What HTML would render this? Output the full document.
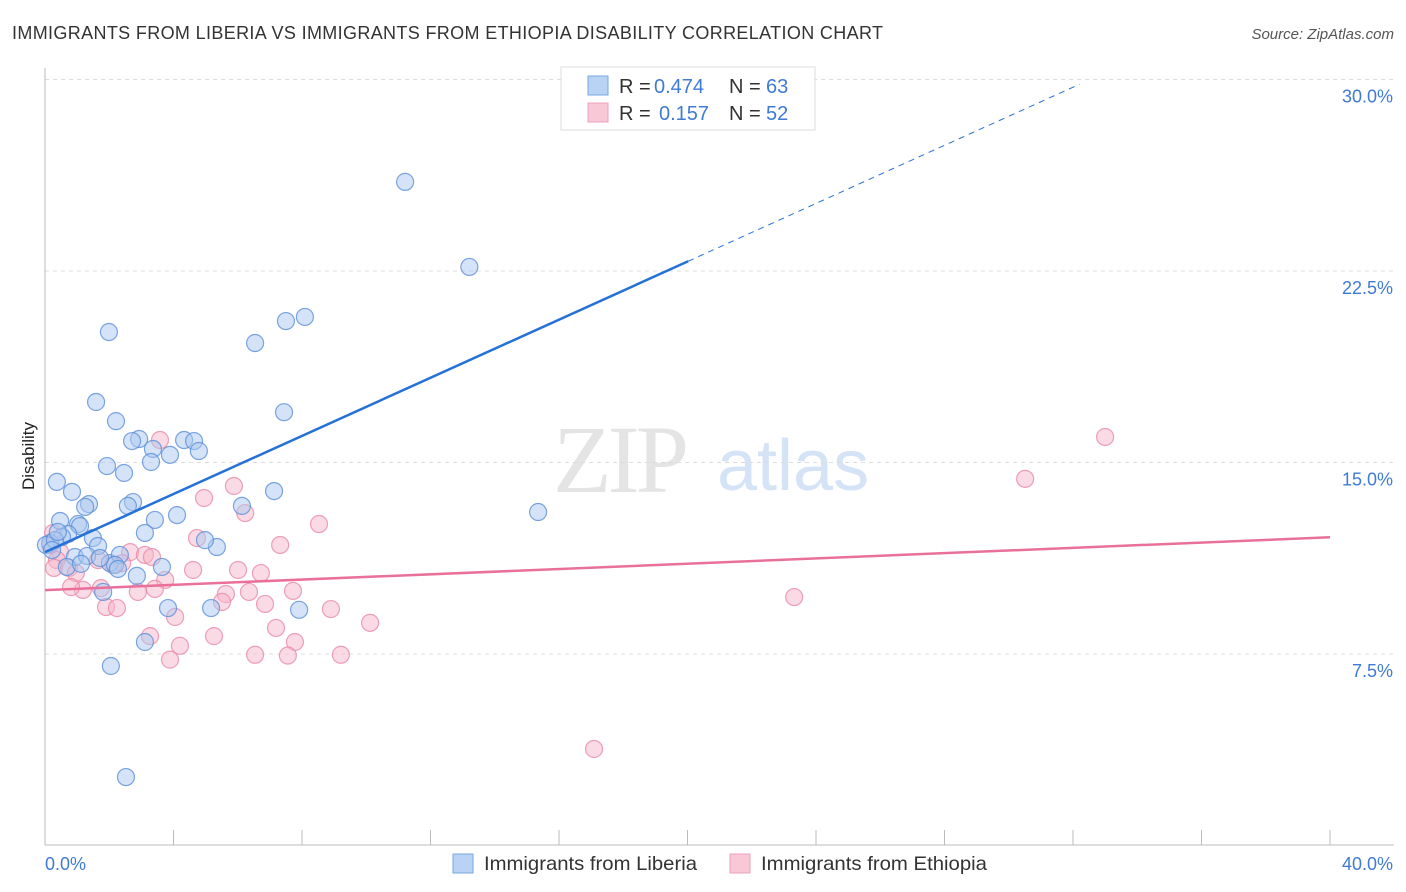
<!DOCTYPE html>
<html><head><meta charset="utf-8"><style>
body{margin:0;background:#fff;font-family:"Liberation Sans",sans-serif;}
svg{display:block}
</style></head><body>
<svg id="chart" width="1406" height="892">
<text x="12" y="39" font-size="18" fill="#333" textLength="871" lengthAdjust="spacing">IMMIGRANTS FROM LIBERIA VS IMMIGRANTS FROM ETHIOPIA DISABILITY CORRELATION CHART</text>
<text x="1394" y="39" font-size="15" fill="#555" font-style="italic" text-anchor="end">Source: ZipAtlas.com</text>
<g>
<text x="553" y="492" font-size="96" fill="#e4e4e4" font-family="Liberation Serif,serif" letter-spacing="-4">ZIP</text>
<text x="717" y="490" font-size="72" fill="#d5e3f6">atlas</text>
</g>
<g id="grid"></g>
<g id="axes"></g>
<g id="pts"></g>
<g id="lines"></g>
<text transform="translate(34,456) rotate(-90)" font-size="17" fill="#222" text-anchor="middle">Disability</text>
<g>
<rect x="561" y="67" width="254" height="63" fill="#fff" stroke="#ddd"/>
<rect x="588" y="76" width="20" height="19" fill="#b8d3f4" stroke="#7aa7e2"/>
<rect x="588" y="103" width="20" height="19" fill="#f8c8d7" stroke="#eca0b9"/>
<g font-size="20" fill="#333">
<text x="619" y="93">R =</text><text x="654" y="93" fill="#3f7bd6">0.474</text><text x="729" y="93">N =</text><text x="766" y="93" fill="#3f7bd6">63</text>
</g>
<g font-size="20" fill="#333">
<text x="619" y="120">R =</text><text x="659" y="120" fill="#3f7bd6">0.157</text><text x="729" y="120">N =</text><text x="766" y="120" fill="#3f7bd6">52</text>
</g>
</g>
<g>
<rect x="453" y="854" width="20" height="19" fill="#b8d3f4" stroke="#7aa7e2"/>
<text x="484" y="870" font-size="19.5" fill="#333" textLength="213" lengthAdjust="spacingAndGlyphs">Immigrants from Liberia</text>
<rect x="730" y="854" width="20" height="19" fill="#f8c8d7" stroke="#eca0b9"/>
<text x="761" y="870" font-size="19.5" fill="#333" textLength="226" lengthAdjust="spacingAndGlyphs">Immigrants from Ethiopia</text>
</g>
</svg>
<script>
const yTicks=[7.5,15,22.5,30];
const yTickLabels=["7.5%","15.0%","22.5%","30.0%"];
const xTickLabels=["0.0%","40.0%"];
const liberiaX=[11.21,13.21,1.99,8.09,7.50,6.54,1.59,7.44,2.21,2.93,2.71,4.33,4.64,3.36,3.89,4.79,3.30,1.93,2.46,0.37,0.84,7.13,1.37,2.74,2.58,1.25,3.42,4.11,6.13,15.35,0.47,1.03,1.09,3.11,0.72,1.49,0.53,0.16,0.03,1.65,5.35,4.98,0.93,1.31,2.02,2.33,2.18,3.64,2.27,0.68,2.86,1.81,3.83,5.17,7.91,3.11,2.05,2.52,0.31,0.40,1.71,1.12,0.22];
const liberiaY=[25.99,22.66,20.11,20.70,20.54,19.68,17.37,16.97,16.62,15.92,15.84,15.88,15.84,15.53,15.30,15.45,15.02,14.86,14.59,14.24,13.85,13.88,13.37,13.45,13.30,13.26,12.75,12.94,13.30,13.06,12.71,12.59,12.51,12.24,12.20,12.04,12.08,11.85,11.77,11.73,11.69,11.96,11.30,11.34,11.06,11.38,10.99,10.91,10.83,10.91,10.56,9.93,9.30,9.30,9.23,7.97,7.03,2.68,11.96,12.28,11.26,11.03,11.57];
const ethiopiaX=[33.00,30.51,23.32,17.09,3.58,4.95,5.88,6.23,8.53,4.73,7.32,0.25,0.47,0.37,2.65,3.11,3.33,1.65,2.40,4.61,6.01,6.72,0.28,0.75,0.96,2.12,3.74,5.63,6.35,7.72,1.74,1.18,2.89,3.42,0.81,5.51,6.85,8.90,1.90,2.24,4.05,10.12,7.19,5.26,3.27,7.78,4.20,6.54,9.21,7.56,3.89,0.16];
const ethiopiaY=[16.00,14.36,9.73,3.78,15.88,13.61,14.08,13.02,12.59,12.04,11.77,12.24,11.49,11.18,11.49,11.38,11.30,11.18,11.06,10.79,10.79,10.67,10.87,10.87,10.67,10.99,10.40,9.85,9.93,9.97,10.08,10.01,9.93,10.05,10.12,9.54,9.46,9.26,9.34,9.30,8.95,8.72,8.52,8.20,8.20,7.97,7.82,7.47,7.47,7.44,7.28,11.77];
const liberiaTrend=[11.49,0.569];
const ethiopiaTrend=[10.0,0.0518];
const NS="http://www.w3.org/2000/svg";
const X0=45,X1=1330,Y0=845.5,YT=79.5;
const sx=v=>X0+v/40*(X1-X0);
const sy=v=>Y0-v/30*(Y0-YT);
function mk(t,a,p){const e=document.createElementNS(NS,t);for(const k in a)e.setAttribute(k,a[k]);p.appendChild(e);return e;}
const grid=document.getElementById('grid'),axes=document.getElementById('axes'),pts=document.getElementById('pts'),lines=document.getElementById('lines');
yTicks.forEach((t,i)=>{
  const g=mk('line',{x1:X0,x2:1394,y1:sy(t),y2:sy(t),stroke:'#dcdcdc','stroke-dasharray':'4,4'},grid);
  
  
  const l=mk('text',{x:1393,y:sy(t)+23,'font-size':18,fill:'#3f7bd6','text-anchor':'end'},axes);
  l.textContent=yTickLabels[i];
  
  
});
const la=mk('line',{x1:X0,x2:X0,y1:68,y2:845,stroke:'#bbb'},axes);


const ba=mk('line',{x1:X0,x2:1394,y1:845,y2:845,stroke:'#bbb'},axes);


for(let i=0;i<=10;i++){
  const t=mk('line',{x1:sx(i*4),x2:sx(i*4),y1:830,y2:845,stroke:'#bbb'},axes);
  
  
}
[[0,'start',45],[40,'end',1393]].forEach((d,i)=>{
  const l=mk('text',{x:d[2],y:870,'font-size':18,fill:'#3f7bd6','text-anchor':d[1]},axes);
  l.textContent=xTickLabels[i];
  
  
});
function dots(X,Y,fill,stroke,name){
  X.forEach((x,i)=>{
    const c=mk('circle',{cx:sx(x),cy:sy(Y[i]),r:8.5,fill:fill,'fill-opacity':0.5,stroke:stroke,'stroke-opacity':0.8,'stroke-width':1.2},pts);
    
    
  });
}
dots(ethiopiaX,ethiopiaY,'#f5b6ca','#e889a8','ethiopia-point');
dots(liberiaX,liberiaY,'#a9c8f0','#5b8fd9','liberia-point');
const bx=20.02,bxe=32.2;
const t1=mk('line',{x1:sx(0),y1:sy(liberiaTrend[0]),x2:sx(bx),y2:sy(liberiaTrend[0]+liberiaTrend[1]*bx),stroke:'#2471d8','stroke-width':2.5},lines);


const t2=mk('line',{x1:sx(bx),y1:sy(liberiaTrend[0]+liberiaTrend[1]*bx),x2:sx(bxe),y2:sy(liberiaTrend[0]+liberiaTrend[1]*bxe),stroke:'#2471d8','stroke-width':1,'stroke-dasharray':'6,5'},lines);


const t3=mk('line',{x1:sx(0),y1:sy(ethiopiaTrend[0]),x2:sx(40),y2:sy(ethiopiaTrend[0]+ethiopiaTrend[1]*40),stroke:'#e8709a','stroke-width':2.5},lines);


</script>
</body></html>
